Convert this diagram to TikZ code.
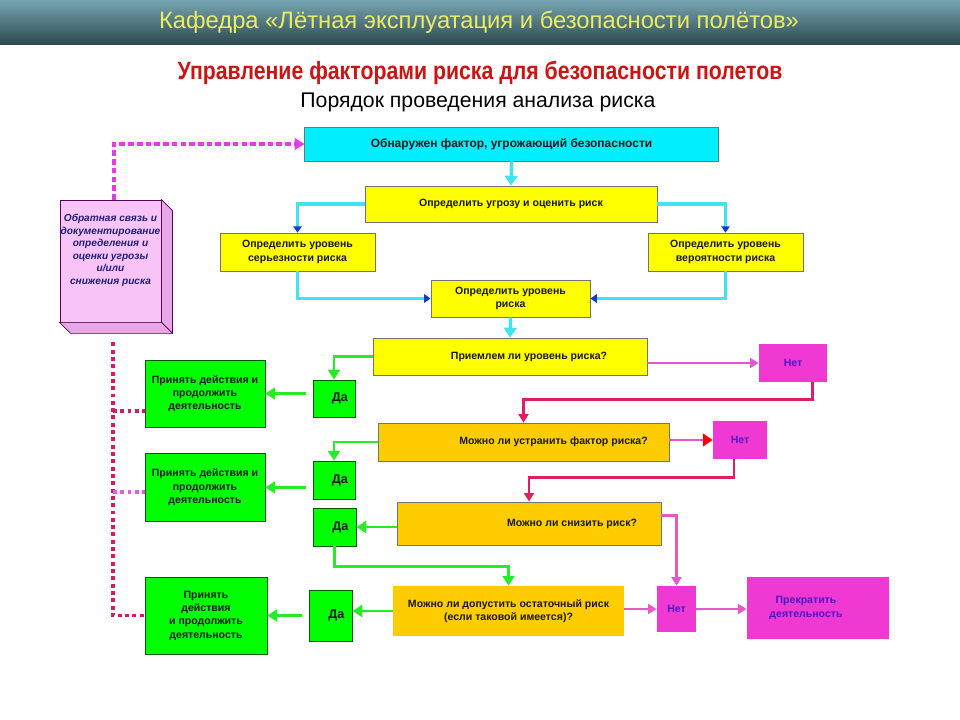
\documentclass[tikz,border=0pt]{standalone}
\usepackage{fontspec}
\setmainfont{Liberation Sans}
\newfontfamily\narrowfont[FakeStretch=0.85]{Liberation Sans}
\usetikzlibrary{arrows.meta, positioning}
\definecolor{headtop}{RGB}{118,164,178}
\definecolor{headbot}{RGB}{44,72,78}
\definecolor{headtext}{RGB}{236,236,96}
\definecolor{titlered}{RGB}{204,20,20}
\definecolor{boxcyan}{RGB}{0,238,255}
\definecolor{boxyellow}{RGB}{255,255,0}
\definecolor{boxorange}{RGB}{255,204,0}
\definecolor{boxgreen}{RGB}{0,255,0}
\definecolor{boxmagenta}{RGB}{240,56,210}
\definecolor{boxpink}{RGB}{248,196,248}
\definecolor{notext}{RGB}{80,20,200}
\definecolor{fbtext}{RGB}{30,30,120}
\definecolor{lncyan}{RGB}{64,228,240}
\definecolor{tipblue}{RGB}{20,60,200}
\definecolor{lngreen}{RGB}{40,235,40}
\definecolor{lnpink}{RGB}{226,90,200}
\definecolor{lncrimson}{RGB}{224,30,100}
\definecolor{dotmagenta}{RGB}{226,60,226}
\definecolor{dotcrimson}{RGB}{208,30,100}

\begin{document}
\begin{tikzpicture}[
    x=0.025cm, y=-0.025cm,
    box/.style={draw=black!55, line width=0.5pt, align=center, inner sep=1pt,
                text=black!90, font=\bfseries\fontsize{7.5}{9.5}\selectfont},
    cyanbox/.style={box, fill=boxcyan, font=\bfseries\fontsize{8.5}{10}\selectfont},
    stage/.style={box, fill=boxyellow},
    query/.style={box, fill=boxorange},
    yesbox/.style={box, fill=boxgreen, draw=green!35!black,
                   font=\bfseries\fontsize{9}{10}\selectfont},
    actbox/.style={box, fill=boxgreen, draw=green!35!black},
    nobox/.style={box, fill=boxmagenta, draw=none, text=notext},
    fbbox/.style={box, fill=boxpink, draw=violet!70!black, text=fbtext, inner xsep=0pt,
                  font=\bfseries\itshape\fontsize{7.2}{8.9}\selectfont},
    fbside/.style={fill=boxpink!85!violet, draw=violet!70!black, line width=0.5pt},
    downcyan/.style={draw=lncyan, line width=2.4pt,
                     -{Triangle[width=9pt,length=7pt]}},
    sidecyan/.style={draw=lncyan, line width=2.4pt,
                     -{Triangle[width=6pt,length=4.5pt,color=tipblue]}},
    yesline/.style={draw=lngreen, line width=2.1pt,
                    -{Triangle[width=8.5pt,length=7pt]}},
    noline/.style={draw=lnpink, line width=2.1pt,
                   -{Triangle[width=7pt,length=6pt]}},
    loopline/.style={draw=lncrimson, line width=2.1pt,
                     -{Triangle[width=7pt,length=6pt]}},
    fbdots/.style={draw=dotcrimson, line width=2.8pt, dash pattern=on 2.8pt off 2.4pt},
    topdots/.style={draw=dotmagenta, line width=2.8pt, dash pattern=on 4pt off 2.2pt,
                    -{Triangle[width=8pt,length=7pt]}}
]
    \useasboundingbox (0,0) rectangle (960,720);

    % header
    \shade[top color=headtop, bottom color=headbot] (0,0) rectangle (960,45);
    \node[text=headtext, font=\fontsize{16.9}{18}\selectfont] (dept) at (479,22)
        {Кафедра «Лётная эксплуатация и безопасности полётов»};
    \node[text=titlered, font=\narrowfont\bfseries\fontsize{17.8}{19}\selectfont] (title) at (480,73)
        {Управление факторами риска для безопасности полетов};
    \node[font=\fontsize{15.1}{17}\selectfont] (subtitle) at (478,102)
        {Порядок проведения анализа риска};

    % assessment chain
    \node[cyanbox, minimum width=10.33cm, minimum height=0.85cm] (detect) at (511.5,144)
        {Обнаружен фактор, угрожающий безопасности};
    \node[stage, minimum width=7.3cm, minimum height=0.9cm] (assess) at (511,204)
        {Определить угрозу и оценить риск};
    \node[stage, minimum width=3.88cm, minimum height=0.95cm] (sev) at (297.5,252)
        {Определить уровень\\серьезности риска};
    \node[stage, minimum width=3.88cm, minimum height=0.95cm] (prob) at (725.5,252)
        {Определить уровень\\вероятности риска};
    \node[stage, minimum width=3.98cm, minimum height=0.93cm] (level) at (510.5,298.5)
        {Определить уровень\\риска};

    % questions
    \node[stage, minimum width=6.85cm, minimum height=0.93cm] (accept) at (510,356.5)
        {\hspace*{0.95cm}Приемлем ли уровень риска?};
    \node[query, minimum width=7.28cm, minimum height=0.95cm] (elim) at (523.5,442)
        {\hspace*{1.5cm}Можно ли устранить фактор риска?};
    \node[query, minimum width=6.6cm, minimum height=1.08cm] (reduce) at (529,523.5)
        {\hspace*{2.15cm}Можно ли снизить риск?};
    \node[query, draw=none, minimum width=5.78cm, minimum height=1.25cm] (residual) at (508.5,611)
        {Можно ли допустить остаточный риск\\(если таковой имеется)?};

    % answers
    \node[nobox, minimum width=1.7cm, minimum height=0.95cm] (no1) at (793,363) {Нет};
    \node[nobox, minimum width=1.35cm, minimum height=0.95cm] (no2) at (740,440) {Нет};
    \node[nobox, minimum width=0.98cm, minimum height=1.15cm] (no3) at (676.5,609) {Нет};
    \node[nobox, minimum width=3.55cm, minimum height=1.55cm] (stop) at (818,608)
        {Прекратить\hspace*{0.6cm}\\деятельность\hspace*{0.6cm}};
    \node[yesbox, minimum width=1.05cm, minimum height=0.93cm] (yes1) at (334,398.5) {\hspace*{0.3cm}Да};
    \node[yesbox, minimum width=1.05cm, minimum height=0.95cm, below=1.08cm of yes1] (yes2) {\hspace*{0.3cm}Да};
    \node[yesbox, minimum width=1.08cm, minimum height=0.95cm] (yes3) at (334.5,527) {\hspace*{0.3cm}Да};
    \node[yesbox, minimum width=1.08cm, minimum height=1.28cm] (yes4) at (330.5,615.5) {\hspace*{0.3cm}Да};

    % actions
    \node[actbox, minimum width=3cm, minimum height=1.68cm] (act1) at (205,393.5)
        {Принять действия и\\продолжить\\деятельность};
    \node[actbox, minimum width=3cm, minimum height=1.68cm, below=0.65cm of act1] (act2)
        {Принять действия и\\продолжить\\деятельность};
    \node[actbox, minimum width=3.05cm, minimum height=1.93cm] (act3) at (206,615.5)
        {Принять\\действия\\и продолжить\\деятельность};

    % feedback block
    \node[fbbox, minimum width=2.53cm, minimum height=3.05cm] (fb) at (110.5,261)
        {Обратная связь и\\документирование\\определения и\\оценки угрозы\\и/или\\снижения риска\\[8pt]};
    \filldraw[fbside] (fb.north east) -- ++(11,11) -- ([shift={(11,11)}]fb.south east)
        -- (fb.south east) -- cycle;
    \filldraw[fbside] (fb.south west) -- ++(11,11) -- ([shift={(11,11)}]fb.south east)
        -- (fb.south east) -- cycle;

    % connectors
    \draw[downcyan] (detect.south) -- (assess.north);
    \draw[sidecyan] (assess.west) -| (sev.north);
    \draw[sidecyan] (assess.east) -| (prob.north);
    \draw[sidecyan] (sev.south) |- (level.west);
    \draw[sidecyan] (prob.south) |- (level.east);
    \draw[downcyan] (level.south) -- (accept.north);

    \draw[yesline] (accept.west) -| (yes1.north);
    \draw[yesline, shorten <=5pt] (yes1.west |- act1.east) -- (act1.east);
    \draw[noline] (accept.east |- no1.west) -- (no1.west);
    \draw[loopline] ([xshift=0.48cm]no1.south) -- ++(0,17) -| (elim.north);

    \draw[yesline] (elim.west) -| (yes2.north);
    \draw[yesline, shorten <=5pt] (yes2.west |- act2.east) -- (act2.east);
    \draw[noline, -{Triangle[width=9pt,length=7pt,color=red]}] (elim.east |- no2.west) -- (no2.west);
    \draw[loopline] ([xshift=-0.15cm]no2.south) -- ++(0,18) -| (reduce.north);

    \draw[yesline] (reduce.west |- yes3.east) -- (yes3.east);
    \draw[yesline] (yes3.south) -- ++(0,20) -| (residual.north);
    \draw[noline] ([yshift=0.21cm]reduce.east) -| (no3.north);

    \draw[yesline] (residual.west) -- (residual.west -| yes4.east);
    \draw[yesline, shorten <=5pt] (yes4.west |- act3.east) -- (act3.east);
    \draw[noline] (residual.east |- no3.west) -- (no3.west);
    \draw[noline] (no3.east) -- (no3.east -| stop.west);

    % feedback links
    \draw[topdots] ([xshift=0.09cm]fb.north) |- (detect.west);
    \coordinate (fbfoot) at ([xshift=0.06cm, yshift=-0.5cm]fb.south);
    \coordinate (tap1) at ([yshift=-0.44cm]act1.west);
    \coordinate (tap2) at ([yshift=-0.11cm]act2.west);
    \draw[fbdots] (fbfoot) |- (act3.west);
    \draw[fbdots] (fbfoot |- tap1) -- (tap1);
    \draw[fbdots, draw=dotmagenta!85] (fbfoot |- tap2) -- (tap2);
\end{tikzpicture}
\end{document}
